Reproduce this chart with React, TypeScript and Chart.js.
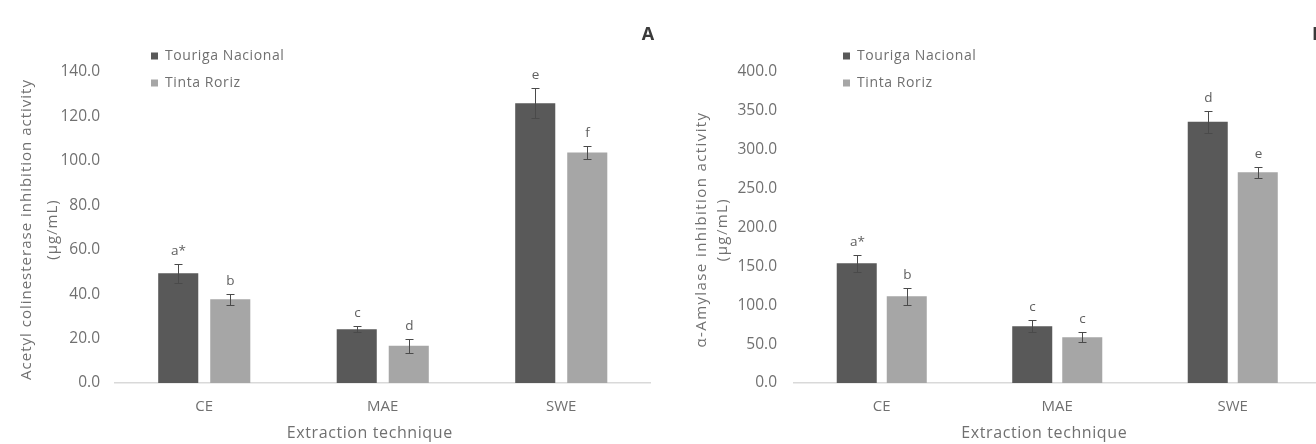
import React, { useEffect, useRef } from 'react';
import { Chart, registerables } from 'chart.js';

Chart.register(...registerables);

// ---- data ----
const categories = ['CE', 'MAE', 'SWE'];
const seriesNames = ['Touriga Nacional', 'Tinta Roriz'];
const xTitle = 'Extraction technique';

const achTN = [49.4, 24.2, 125.9];
const achTR = [37.7, 16.8, 103.8];
const achTNErr = [4.2, 1.3, 6.8];
const achTRErr = [2.4, 3.2, 3.0];
const achTNLetters = ['a*', 'c', 'e'];
const achTRLetters = ['b', 'd', 'f'];
const achMax = 140;
const achStep = 20;

const amyTN = [154, 73, 336];
const amyTR = [111.5, 59, 271];
const amyTNErr = [11, 7.5, 14];
const amyTRErr = [11, 6, 7];
const amyTNLetters = ['a*', 'c', 'd'];
const amyTRLetters = ['b', 'c', 'e'];
const amyMax = 400;
const amyStep = 50;

const colorTN = '#595959';
const colorTR = '#a6a6a6';
const FONT = "'Open Sans', sans-serif";
const textGrey = '#707070';

type PanelOpts = {
  tn: number[];
  tr: number[];
  tnErr: number[];
  trErr: number[];
  tnLetters: string[];
  trLetters: string[];
  max: number;
  step: number;
  yTitle: string[];
  yTitleX: number[];
  yTitleSpacing: number;
  yAxisWidth: number;
  tickPad: number;
  legendX: number;
  panelLabel: string;
  catPct: number;
  barPct: number;
};

function makeConfig(o: PanelOpts): any {
  const errs = [o.tnErr, o.trErr];
  const letters = [o.tnLetters, o.trLetters];
  const colors = [colorTN, colorTR];

  const overlay = {
    id: 'overlay',
    afterDatasetsDraw(chart: any) {
      const ctx = chart.ctx;
      const y = chart.scales.y;
      ctx.save();
      for (let d = 0; d < 2; d++) {
        const meta = chart.getDatasetMeta(d);
        const vals = chart.data.datasets[d].data as number[];
        meta.data.forEach((bar: any, j: number) => {
          const v = vals[j];
          const e = errs[d][j];
          const x = Math.round(bar.x) + 0.5;
          const yt = Math.round(y.getPixelForValue(v + e)) + 0.5;
          const yb = Math.round(y.getPixelForValue(v - e)) + 0.5;
          ctx.strokeStyle = '#4a4a4a';
          ctx.lineWidth = 1;
          ctx.beginPath();
          ctx.moveTo(x, yt);
          ctx.lineTo(x, yb);
          ctx.moveTo(x - 4, yt);
          ctx.lineTo(x + 4, yt);
          ctx.moveTo(x - 4, yb);
          ctx.lineTo(x + 4, yb);
          ctx.stroke();
          ctx.fillStyle = '#606060';
          ctx.font = `13.5px ${FONT}`;
          ctx.textAlign = 'center';
          ctx.textBaseline = 'middle';
          ctx.fillText(letters[d][j], x, yt - 13);
        });
      }
      ctx.restore();
    },
    afterDraw(chart: any) {
      const ctx = chart.ctx;
      const area = chart.chartArea;
      ctx.save();
      // legend
      ctx.font = `14px ${FONT}`;
      (ctx as any).letterSpacing = '0.6px';
      ctx.textBaseline = 'middle';
      ctx.textAlign = 'left';
      const rows = [56, 83];
      for (let d = 0; d < 2; d++) {
        ctx.fillStyle = colors[d];
        ctx.fillRect(o.legendX, rows[d] - 3.5, 7, 7);
        ctx.fillStyle = textGrey;
        ctx.fillText(chart.data.datasets[d].label, o.legendX + 14, rows[d]);
      }
      // x title
      ctx.font = `16px ${FONT}`;
      (ctx as any).letterSpacing = '0.6px';
      ctx.textAlign = 'center';
      ctx.fillStyle = textGrey;
      ctx.fillText(xTitle, (area.left + area.right) / 2 - 13, 433);
      // y title (rotated)
      ctx.font = `15px ${FONT}`;
      (ctx as any).letterSpacing = `${o.yTitleSpacing}px`;
      const cy = (area.top + area.bottom) / 2 + 2;
      o.yTitle.forEach((line, i) => {
        ctx.save();
        ctx.translate(o.yTitleX[i], cy);
        ctx.rotate(-Math.PI / 2);
        ctx.textAlign = 'center';
        ctx.textBaseline = 'middle';
        ctx.fillText(line, 0, 0);
        ctx.restore();
      });
      // panel label
      (ctx as any).letterSpacing = '0px';
      ctx.font = `bold 18px ${FONT}`;
      ctx.fillStyle = '#3a3a3a';
      ctx.textAlign = 'center';
      ctx.fillText(o.panelLabel, area.right - 2.5, 35);
      ctx.restore();
    },
  };

  return {
    type: 'bar',
    data: {
      labels: categories,
      datasets: [
        {
          label: seriesNames[0],
          data: o.tn,
          backgroundColor: colorTN,
          categoryPercentage: o.catPct,
          barPercentage: o.barPct,
        },
        {
          label: seriesNames[1],
          data: o.tr,
          backgroundColor: colorTR,
          categoryPercentage: o.catPct,
          barPercentage: o.barPct,
        },
      ],
    },
    options: {
      responsive: false,
      animation: false,
      devicePixelRatio: 1,
      layout: { padding: { top: 72, right: 9.5, left: 0, bottom: 0 } },
      plugins: {
        legend: { display: false },
        tooltip: { enabled: false },
      },
      scales: {
        x: {
          grid: { display: false, drawTicks: false },
          border: { display: true, color: '#d9d9d9', width: 1.5 },
          ticks: {
            padding: 15,
            color: textGrey,
            font: { family: FONT, size: 15 },
          },
          afterFit(scale: any) {
            scale.height = 444 - 383;
          },
        },
        y: {
          min: 0,
          max: o.max,
          grid: { display: false, drawTicks: false },
          border: { display: false },
          ticks: {
            stepSize: o.step,
            padding: o.tickPad,
            color: textGrey,
            font: { family: FONT, size: 15.5 },
            callback: (v: any) => Number(v).toFixed(1),
          },
          afterFit(scale: any) {
            scale.width = o.yAxisWidth;
          },
        },
      },
    },
    plugins: [overlay],
  };
}

function Panel(props: { opts: PanelOpts; left: number; width: number }) {
  const ref = useRef<HTMLCanvasElement | null>(null);
  useEffect(() => {
    if (!ref.current) return;
    const chart = new Chart(ref.current, makeConfig(props.opts));
    return () => chart.destroy();
  }, []);
  return (
    <canvas
      ref={ref}
      width={props.width}
      height={444}
      style={{ position: 'absolute', left: props.left, top: 0, width: props.width, height: 444 }}
    />
  );
}

const panelA: PanelOpts = {
  tn: achTN,
  tr: achTR,
  tnErr: achTNErr,
  trErr: achTRErr,
  tnLetters: achTNLetters,
  trLetters: achTRLetters,
  max: achMax,
  step: achStep,
  yTitle: ['Acetyl colinesterase inhibition activity', '(µg/mL)'],
  yTitleX: [27, 53],
  yTitleSpacing: 1.0,
  yAxisWidth: 115,
  tickPad: 15,
  legendX: 151,
  panelLabel: 'A',
  catPct: 0.583,
  barPct: 0.77,
};

const panelB: PanelOpts = {
  tn: amyTN,
  tr: amyTR,
  tnErr: amyTNErr,
  trErr: amyTRErr,
  tnLetters: amyTNLetters,
  trLetters: amyTRLetters,
  max: amyMax,
  step: amyStep,
  yTitle: ['α-Amylase inhibition activity', '(µg/mL)'],
  yTitleX: [42, 63],
  yTitleSpacing: 1.4,
  yAxisWidth: 134,
  tickPad: 17,
  legendX: 183,
  panelLabel: 'B',
  catPct: 0.57,
  barPct: 0.8,
};

export default function App() {
  useEffect(() => {
    document.body.style.margin = '0';
  }, []);
  return (
    <div
      style={{
        position: 'fixed',
        left: 0,
        top: 0,
        width: 1316,
        height: 444,
        overflow: 'hidden',
        background: '#ffffff',
      }}
    >
      <Panel opts={panelA} left={0} width={660} />
      <Panel opts={panelB} left={660} width={670} />
    </div>
  );
}
